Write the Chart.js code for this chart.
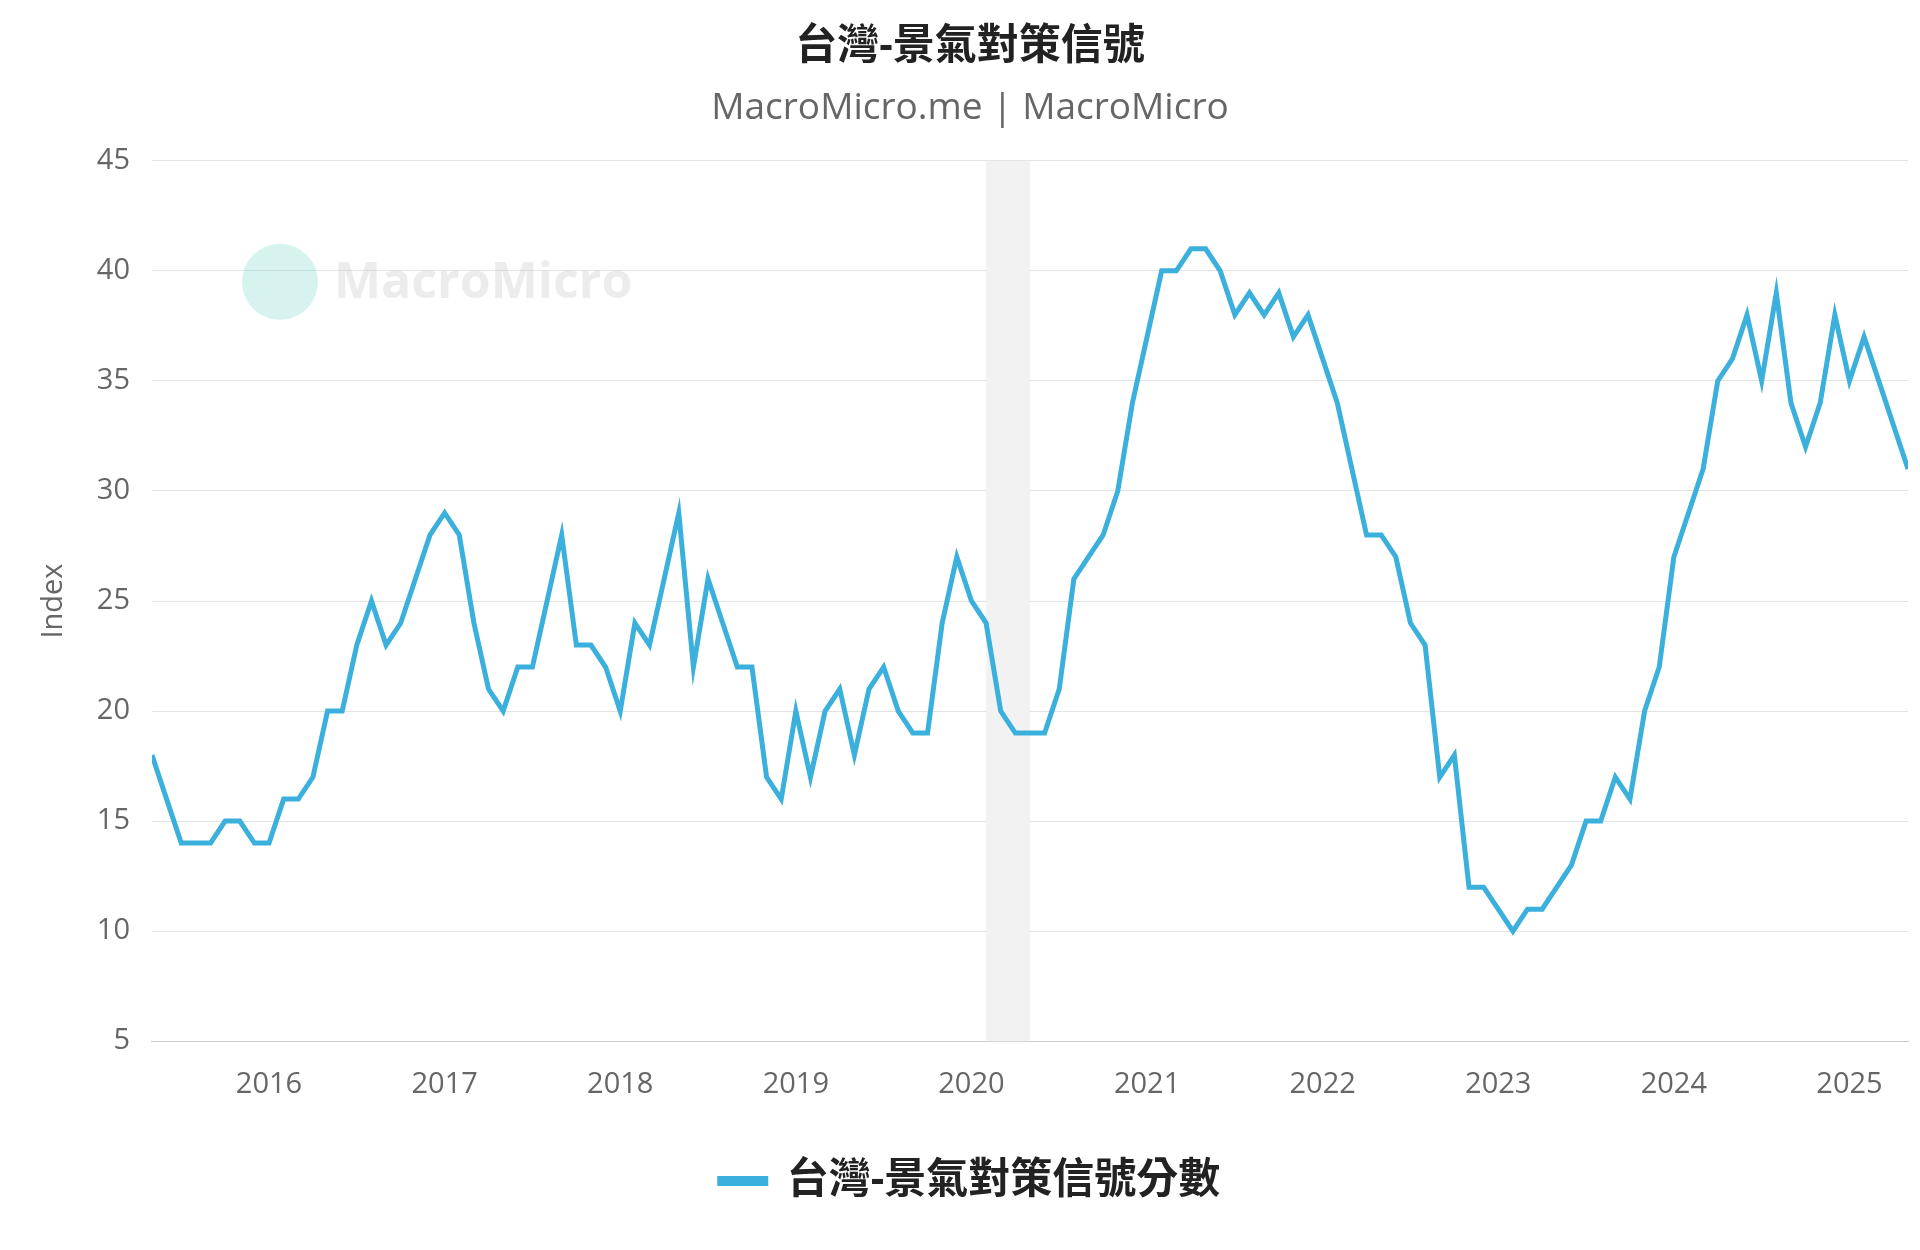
<!DOCTYPE html>
<html><head><meta charset="utf-8">
<script src="https://cdn.jsdelivr.net/npm/chart.js@4/dist/chart.umd.min.js"></script>
<style>html,body{margin:0;padding:0;background:#fff}#w{width:1920px;height:1250px}</style>
</head><body><div id="w"><canvas id="c"></canvas></div>
<script>
const startYear = 2015, startMonth = 5;
const values = [18,16,14,14,14,15,15,14,
14,16,16,17,20,20,23,25,23,24,26,28,
29,28,24,21,20,22,22,25,28,23,23,22,
20,24,23,26,29,22,26,24,22,22,17,16,
20,17,20,21,18,21,22,20,19,19,24,27,
25,24,20,19,19,19,21,26,27,28,30,34,
37,40,40,41,41,40,38,39,38,39,37,38,
36,34,31,28,28,27,24,23,17,18,12,12,
11,10,11,11,12,13,15,15,17,16,20,22,
27,29,31,35,36,38,35,39,34,32,34,38,
35,37,35,33,31];
const yearLabels = ['2016','2017','2018','2019','2020','2021','2022','2023','2024','2025'];
const recession = [['2020-02','2020-05']];
const title = '台灣-景氣對策信號';
const subtitle = 'MacroMicro.me | MacroMicro';
const seriesName = '台灣-景氣對策信號分數';

const idx = s => { const [y,m] = s.split('-').map(Number); return (y-startYear)*12 + (m-startMonth); };
const pts = values.map((v,i)=>({x:i,y:v}));
const yearIdx = yearLabels.map(y=>idx(y+'-01'));
const FONT = '"Open Sans","Noto Sans CJK TC",sans-serif';

const shade = {id:'shade', beforeDatasetsDraw(ch){
  const {ctx, chartArea:a, scales:{x}} = ch; ctx.save(); ctx.fillStyle='#f2f2f2';
  recession.forEach(([s,e])=>{const x1=x.getPixelForValue(idx(s)), x2=x.getPixelForValue(idx(e)); ctx.fillRect(x1,a.top,x2-x1,a.bottom-a.top);});
  ctx.font='bold 50px '+FONT; ctx.fillStyle='rgba(200,200,200,0.35)'; ctx.textBaseline='middle';
  ctx.fillText('MacroMicro', a.left+182, a.top+123);
  ctx.beginPath(); ctx.fillStyle='rgba(120,215,205,0.3)'; ctx.arc(a.left+128,a.top+121,38,0,Math.PI*2); ctx.fill();
  ctx.restore();}};

new Chart(document.getElementById('c'),{
  type:'line',
  data:{datasets:[{label:seriesName,data:pts,borderColor:'#3bb0dc',backgroundColor:'#3bb0dc',borderWidth:5,pointRadius:0,tension:0}]},
  options:{responsive:true,maintainAspectRatio:false,animation:false,
    layout:{padding:{left:32,right:12,top:0,bottom:38}},
    plugins:{
      title:{display:true,text:title,color:'#222',font:{family:FONT,size:42,weight:'bold'},padding:{top:22,bottom:14}},
      subtitle:{display:true,text:subtitle,color:'#666',font:{family:FONT,size:37},padding:{bottom:30}},
      legend:{position:'bottom',labels:{color:'#222',font:{family:FONT,size:42,weight:'bold'},boxWidth:46,boxHeight:5,padding:42}},
      tooltip:{enabled:false}},
    scales:{
      x:{type:'linear',min:0,max:values.length-1,
        afterBuildTicks(s){s.ticks=yearIdx.map(v=>({value:v}));},
        ticks:{callback:(v)=>yearLabels[yearIdx.indexOf(v)]||'',color:'#666',font:{family:FONT,size:29},padding:16,maxRotation:0,autoSkip:false},
        grid:{display:false,drawTicks:true,tickLength:10,color:'#ccc'},border:{color:'#ccc'}},
      y:{min:5,max:45,ticks:{stepSize:5,color:'#666',font:{family:FONT,size:29},padding:22},
        grid:{color:'#e3e3e3',drawTicks:false},border:{display:false},
        title:{display:true,text:'Index',color:'#666',font:{family:FONT,size:29}}}}},
  plugins:[shade]});
</script></body></html>
